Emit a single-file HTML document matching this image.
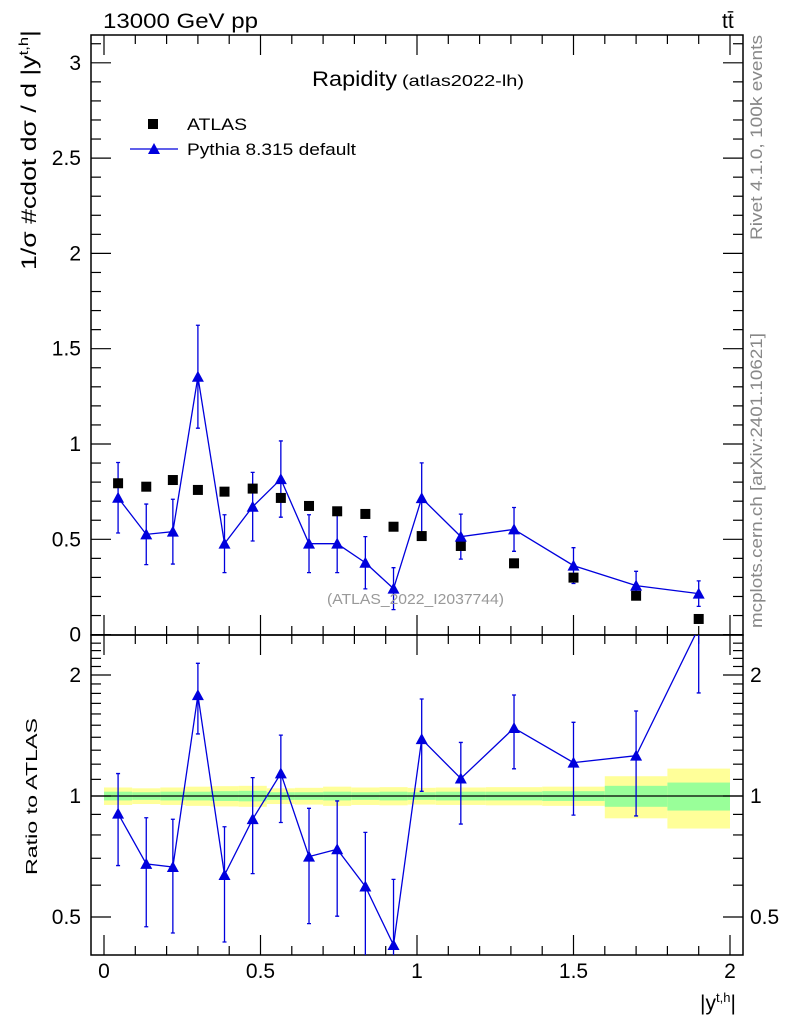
<!DOCTYPE html>
<html><head><meta charset="utf-8"><style>
body{margin:0;background:#fff}
svg text{font-family:"Liberation Sans",sans-serif}
</style></head><body>
<svg id="c" width="786" height="1024" viewBox="0 0 786 1024" xmlns="http://www.w3.org/2000/svg">
<defs>
<clipPath id="mainClip"><rect x="91" y="35" width="652" height="600"/></clipPath>
<clipPath id="ratioClip"><rect x="91" y="635" width="652" height="320"/></clipPath>
</defs>
<g id="bands" clip-path="url(#ratioClip)"></g>
<g id="axes"></g>
<g id="series"></g>
<text x="103" y="28" font-size="21" textLength="155" lengthAdjust="spacingAndGlyphs">13000 GeV pp</text>
<text x="722" y="28" font-size="21">tt̄</text>
<text x="312" y="86" font-size="21" textLength="85" lengthAdjust="spacingAndGlyphs">Rapidity</text>
<text x="402" y="86" font-size="16" textLength="122" lengthAdjust="spacingAndGlyphs">(atlas2022-lh)</text>
<rect x="148" y="119" width="10" height="10" fill="#000"/>
<text x="187" y="130" font-size="17" textLength="60" lengthAdjust="spacingAndGlyphs">ATLAS</text>
<line x1="130" y1="149" x2="178" y2="149" stroke="#0000dd" stroke-width="1.3"/>
<polygon points="154,143 148,154 160,154" fill="#0000dd"/>
<text x="187" y="155" font-size="17" textLength="169" lengthAdjust="spacingAndGlyphs">Pythia 8.315 default</text>
<text x="327" y="604" font-size="15" fill="#999" textLength="177" lengthAdjust="spacingAndGlyphs">(ATLAS_2022_I2037744)</text>
<text transform="translate(36,270) rotate(-90)" font-size="21" textLength="240" lengthAdjust="spacingAndGlyphs">1/σ #cdot dσ / d |y<tspan font-size="13" dy="-8">t,h</tspan><tspan dy="8">|</tspan></text>
<text transform="translate(37,875) rotate(-90)" font-size="16" textLength="157" lengthAdjust="spacingAndGlyphs">Ratio to ATLAS</text>
<text transform="translate(762,240) rotate(-90)" font-size="17" fill="#888" textLength="205" lengthAdjust="spacingAndGlyphs">Rivet 4.1.0,  100k events</text>
<text transform="translate(762,628) rotate(-90)" font-size="17" fill="#888" textLength="295" lengthAdjust="spacingAndGlyphs">mcplots.cern.ch [arXiv:2401.10621]</text>
<text x="700" y="1010" font-size="21">|y<tspan font-size="13" dy="-8">t,h</tspan><tspan dy="8">|</tspan></text>
</svg>
<script>
const xCenters=[0.045,0.135,0.22,0.3,0.385,0.475,0.565,0.655,0.745,0.835,0.925,1.015,1.14,1.31,1.5,1.7,1.9];
const binEdges=[0,0.09,0.18,0.26,0.34,0.43,0.52,0.61,0.7,0.79,0.88,0.97,1.06,1.22,1.4,1.6,1.8,2.0];
const atlasVals=[0.794,0.776,0.811,0.759,0.750,0.766,0.717,0.675,0.647,0.633,0.566,0.517,0.465,0.374,0.299,0.204,0.082];
const pythiaVals=[0.718,0.526,0.540,1.353,0.477,0.671,0.816,0.477,0.477,0.377,0.241,0.716,0.514,0.552,0.362,0.257,0.215];
const pythiaErrs=[0.185,0.159,0.17,0.27,0.152,0.18,0.2,0.152,0.152,0.137,0.11,0.185,0.118,0.115,0.094,0.075,0.067];
const statRel=[0.025,0.022,0.025,0.025,0.028,0.03,0.022,0.022,0.025,0.022,0.025,0.022,0.025,0.025,0.028,0.06,0.08];
const totRel=[0.05,0.045,0.05,0.055,0.058,0.06,0.045,0.048,0.055,0.05,0.052,0.048,0.05,0.052,0.055,0.12,0.17];
const yTicksMain=["0","0.5","1","1.5","2","2.5","3"];
const xTickLabels=["0","0.5","1","1.5","2"];
const ratioTickLabels=["0.5","1","2"];

const NS="http://www.w3.org/2000/svg";
const X=v=>104+313*v;
const Y=v=>634.6-190.6*v;
const R=v=>796-121*Math.log2(v);
const BLUE="#0000dd";
function mk(tag,attrs,parent){const e=document.createElementNS(NS,tag);for(const k in attrs)e.setAttribute(k,attrs[k]);parent.appendChild(e);return e;}
const axes=document.getElementById('axes'),series=document.getElementById('series'),bands=document.getElementById('bands');

for(let i=0;i<statRel.length;i++){
  const x0=X(binEdges[i]),x1=X(binEdges[i+1]);
  const t=mk('rect',{x:x0,y:R(1+totRel[i]),width:x1-x0,height:R(1-totRel[i])-R(1+totRel[i]),fill:'#ffff99'},bands);
  
  
  const s=mk('rect',{x:x0,y:R(1+statRel[i]),width:x1-x0,height:R(1-statRel[i])-R(1+statRel[i]),fill:'#99ff99'},bands);
  
  
}
const one=mk('line',{x1:91,x2:743,y1:R(1),y2:R(1),stroke:'#000','stroke-width':1.3},axes);



const f1=mk('rect',{x:91,y:35,width:652,height:600,fill:'none',stroke:'#000','stroke-width':1.5},axes);


const f2=mk('rect',{x:91,y:635,width:652,height:320,fill:'none',stroke:'#000','stroke-width':1.5},axes);



function tick(x1,y1,x2,y2){const l=mk('line',{x1,y1,x2,y2,stroke:'#000','stroke-width':1.2},axes);

}
for(let k=0;k<=31;k++){const v=k/10,y=Y(v);if(y<35)continue;const L=(k%5==0)?20:10;tick(91,y,91+L,y);tick(743,y,743-L,y);}
yTicksMain.forEach(s=>{const t=mk('text',{x:81,y:Y(+s)+7,'font-size':21,'text-anchor':'end'},axes);t.textContent=s;

});
for(let k=0;k<=20;k++){const x=X(k/10);const L=(k%5==0)?20:9;tick(x,635,x,635-L);tick(x,635,x,635+L);tick(x,35,x,35+L);tick(x,955,x,955-L);}
xTickLabels.forEach(s=>{const t=mk('text',{x:X(+s),y:978,'font-size':21,'text-anchor':'middle'},axes);t.textContent=s;

});
for(let k=4;k<=24;k++){const v=k/10,y=R(v);if(y<636||y>954)continue;const L=(k==5||k==10||k==20)?20:10;tick(91,y,91+L,y);tick(743,y,743-L,y);}
ratioTickLabels.forEach(s=>{const y=R(+s)+7;
const a=mk('text',{x:81,y,'font-size':21,'text-anchor':'end'},axes);a.textContent=s;


const b=mk('text',{x:750,y,'font-size':21},axes);b.textContent=s;

});

function tri(x,y,g,name){const p=mk('polygon',{points:`${x},${y-6} ${x-6},${y+5} ${x+6},${y+5}`,fill:BLUE},g);

}
function errbar(x,y1,y2,g){const l=mk('path',{d:`M${x},${y1}V${y2}M${x-2},${y1}H${x+2}M${x-2},${y2}H${x+2}`,stroke:BLUE,'stroke-width':1.3,fill:'none'},g);

}

const gm=mk('g',{'clip-path':'url(#mainClip)'},series);
const pl=mk('polyline',{points:xCenters.map((x,i)=>X(x)+','+Y(pythiaVals[i])).join(' '),fill:'none',stroke:BLUE,'stroke-width':1.3},gm);


xCenters.forEach((x,i)=>{errbar(X(x),Y(pythiaVals[i]+pythiaErrs[i]),Y(pythiaVals[i]-pythiaErrs[i]),gm);});
xCenters.forEach((x,i)=>{const r=mk('rect',{x:X(x)-5,y:Y(atlasVals[i])-5,width:10,height:10,fill:'#000'},gm);

});
xCenters.forEach((x,i)=>tri(X(x),Y(pythiaVals[i]),gm,'pythia-point'));

const gr=mk('g',{'clip-path':'url(#ratioClip)'},series);
const rv=pythiaVals.map((p,i)=>p/atlasVals[i]);
const rl=mk('polyline',{points:xCenters.map((x,i)=>X(x)+','+R(rv[i])).join(' '),fill:'none',stroke:BLUE,'stroke-width':1.3},gr);


xCenters.forEach((x,i)=>{const e=pythiaErrs[i]/atlasVals[i];const lo=Math.max(rv[i]-e,0.01);errbar(X(x),R(rv[i]+e),R(lo),gr);});
xCenters.forEach((x,i)=>tri(X(x),R(rv[i]),gr,'ratio-point'));
</script>
</body></html>
